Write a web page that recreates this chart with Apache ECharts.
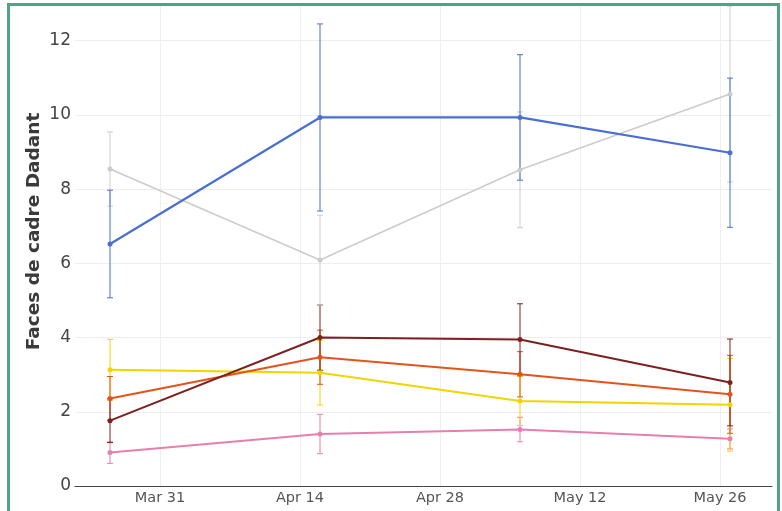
<!DOCTYPE html>
<html><head><meta charset="utf-8">
<script src="https://cdn.jsdelivr.net/npm/echarts@6/dist/echarts.min.js"></script>
<style>
html,body{margin:0;padding:0;background:#fff;}
#c{position:absolute;left:0;top:0;width:782px;height:511px;}
#frame{position:absolute;left:7px;top:3px;width:767px;height:600px;border:3px solid #4aa782;pointer-events:none;}
</style></head><body>
<div id="c"></div><div id="frame"></div>
<script>
// ---- data ----
const dates = ['2021-03-26', '2021-04-16', '2021-05-06', '2021-05-27'];
const tickDates = ['2021-03-31', '2021-04-14', '2021-04-28', '2021-05-12', '2021-05-26'];
const yTicks = [0, 2, 4, 6, 8, 10, 12];
const yTitle = 'Faces de cadre Dadant';

const pinkMean = [0.90, 1.40, 1.52, 1.27];
const pinkErr = [0.29, 0.53, 0.33, 0.27];
const yellowMean = [3.13, 3.05, 2.29, 2.19];
const yellowErr = [0.82, 0.87, 0.66, 1.25];
const orangeMean = [2.36, 3.47, 3.01, 2.47];
const orangeErr = [0.59, 0.73, 0.61, 1.05];
const darkredMean = [1.76, 4.00, 3.95, 2.79];
const darkredErr = [0.59, 0.88, 0.96, 1.17];
const greyMean = [8.54, 6.09, 8.52, 10.56];
const greyErr = [1.00, 1.21, 1.56, 2.37];
const blueMean = [6.52, 9.93, 9.93, 8.98];
const blueErr = [1.45, 2.52, 1.69, 2.01];

// ---- build ----
const DAY = 86400000;
const ts = d => Date.parse(d + 'T00:00:00Z');
const MONTHS = ['Jan','Feb','Mar','Apr','May','Jun','Jul','Aug','Sep','Oct','Nov','Dec'];
const fmt = v => { const d = new Date(v); return MONTHS[d.getUTCMonth()] + ' ' + d.getUTCDate(); };
const xMin = ts('2021-03-31') - 8.5 * DAY;
const xMax = xMin + 69.7 * DAY;
const tickVals = tickDates.map(ts);

const groups = [
  {name: 'pink', mean: pinkMean, err: pinkErr, color: '#e67fae', w: 2},
  {name: 'yellow', mean: yellowMean, err: yellowErr, color: '#f2d400', w: 2},
  {name: 'orange', mean: orangeMean, err: orangeErr, color: '#e4531c', w: 2},
  {name: 'darkred', mean: darkredMean, err: darkredErr, color: '#7d2020', w: 2},
  {name: 'grey', mean: greyMean, err: greyErr, color: '#cccccc', w: 1.6},
  {name: 'blue', mean: blueMean, err: blueErr, color: '#4a6fd3', w: 2.2}
];

function errRender(color) {
  return function (params, api) {
    const x = api.value(0), m = api.value(1), e = api.value(2);
    const top = api.coord([x, m + e]);
    const bot = api.coord([x, m - e]);
    const cap = 3;
    const style = {stroke: color, lineWidth: 1};
    return {
      type: 'group',
      children: [
        {type: 'line', shape: {x1: top[0], y1: top[1], x2: bot[0], y2: bot[1]}, style},
        {type: 'line', shape: {x1: top[0] - cap, y1: top[1], x2: top[0] + cap, y2: top[1]}, style},
        {type: 'line', shape: {x1: bot[0] - cap, y1: bot[1], x2: bot[0] + cap, y2: bot[1]}, style}
      ]
    };
  };
}

const series = [];
groups.forEach(g => {
  series.push({
    type: 'custom',
    name: g.name + '-err',
    renderItem: errRender(g.color),
    data: dates.map((d, i) => [ts(d), g.mean[i], g.err[i]]),
    encode: {x: 0, y: [1]},
    clip: true,
    silent: true,
    z: 2
  });
});
groups.forEach(g => {
  series.push({
    type: 'line',
    name: g.name,
    data: dates.map((d, i) => [ts(d), g.mean[i]]),
    symbol: 'circle',
    symbolSize: 5,
    showSymbol: true,
    lineStyle: {color: g.color, width: g.w},
    itemStyle: {color: g.color},
    animation: false,
    z: 3
  });
});

const chart = echarts.init(document.getElementById('c'), null, {renderer: 'canvas'});
chart.setOption({
  animation: false,
  backgroundColor: '#ffffff',
  grid: {left: 75, right: 10, top: 5, bottom: 25, containLabel: false},
  xAxis: {
    type: 'value',
    min: xMin,
    max: xMax,
    axisLine: {show: true, onZero: false, lineStyle: {color: '#444', width: 1}},
    axisTick: {show: false, customValues: tickVals},
    axisLabel: {
      customValues: tickVals,
      formatter: v => fmt(v),
      color: '#555',
      fontFamily: 'DejaVu Sans',
      fontSize: 14.5,
      margin: 5
    },
    splitLine: {show: true, lineStyle: {color: '#eeeeee', width: 1}}
  },
  yAxis: {
    type: 'value',
    min: 0,
    max: 12.96,
    name: yTitle,
    nameLocation: 'middle',
    nameGap: 31,
    nameMoveOverlap: false,
    nameTextStyle: {
      fontFamily: 'DejaVu Sans',
      fontWeight: 'bold',
      fontSize: 18.5,
      color: '#3a3a3a',
      padding: [0, 0, 0, 28]
    },
    axisLine: {show: false},
    axisTick: {show: false, customValues: yTicks},
    axisLabel: {
      customValues: yTicks,
      color: '#444',
      fontFamily: 'DejaVu Sans',
      fontSize: 17,
      margin: 4
    },
    splitLine: {show: true, lineStyle: {color: '#eeeeee', width: 1}}
  },
  series: series
});
</script>
</body></html>
